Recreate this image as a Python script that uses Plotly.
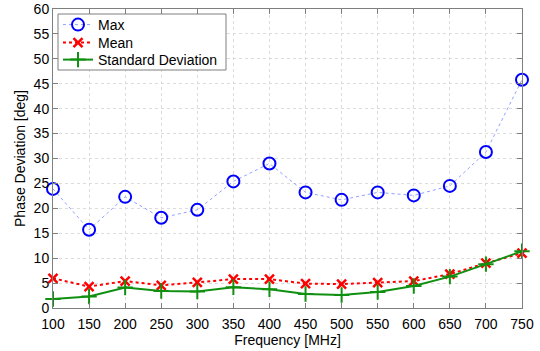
import plotly.graph_objects as go

freq = [100, 150, 200, 250, 300, 350, 400, 450, 500, 550, 600, 650, 700, 750]
max_dev = [23.9, 15.7, 22.3, 18.1, 19.7, 25.4, 29.0, 23.2, 21.7, 23.2, 22.6, 24.5, 31.3, 45.8]
mean_dev = [5.96, 4.3, 5.4, 4.55, 5.15, 5.8, 5.8, 4.9, 4.8, 5.1, 5.4, 6.8, 9.0, 11.0]
std_dev = [1.8, 2.3, 4.1, 3.4, 3.3, 4.15, 3.75, 2.8, 2.6, 3.2, 4.4, 6.3, 8.8, 11.4]

x_ticks = list(range(100, 751, 50))
y_ticks = list(range(0, 61, 5))

font = "Liberation Sans, Arial, sans-serif"
W, H = 540, 351
# plot area in pixels
PL, PR, PT, PB = 53, 522, 9, 308
PW, PH = PR - PL, PB - PT

fig = go.Figure()
fig.add_trace(go.Scatter(
    x=freq, y=max_dev, name="Max", mode="lines+markers", legend="legend",
    line=dict(color="rgba(110,130,255,0.75)", width=1, dash="dot"),
    marker=dict(symbol="circle-open", size=12, color="#0000ff", line=dict(width=2)),
    cliponaxis=False,
))
fig.add_trace(go.Scatter(
    x=freq, y=mean_dev, name="Mean", mode="lines+markers", legend="legend2",
    line=dict(color="#ff0000", width=2, dash="dot"),
    marker=dict(symbol="x-thin-open", size=9, color="#ff0000", line=dict(width=2.5, color="#ff0000")),
    cliponaxis=False,
))
fig.add_trace(go.Scatter(
    x=freq, y=std_dev, name="Standard Deviation", mode="lines+markers", legend="legend3",
    line=dict(color="#109010", width=2),
    marker=dict(symbol="cross-thin-open", size=11, color="#109010", line=dict(width=2, color="#109010")),
    cliponaxis=False,
))

axis_common = dict(
    showline=True, mirror="ticks", linecolor="#7f7f7f", linewidth=1,
    ticks="inside", ticklen=5, tickcolor="#7f7f7f",
    showgrid=True, gridcolor="#dcdcdc", griddash="dot", gridwidth=1,
    zeroline=False, tickfont=dict(size=14, color="#000000", family=font),
)


def legend_row(y_px):
    # one single-entry legend per series, stacked in a shared box
    return dict(
        xref="paper", yref="paper",
        x=(58 - PL) / PW, y=(PB - y_px) / PH, xanchor="left", yanchor="middle",
        bgcolor="rgba(0,0,0,0)", borderwidth=0,
        font=dict(size=14, family=font, color="#000000"),
    )


fig.update_layout(
    width=W, height=H,
    margin=dict(l=PL, r=W - PR, t=PT, b=H - PB, autoexpand=False),
    paper_bgcolor="white", plot_bgcolor="white",
    font=dict(family=font, size=14, color="#000000"),
    showlegend=True,
    legend=legend_row(25),
    legend2=legend_row(43),
    legend3=legend_row(60),
    shapes=[dict(
        type="rect", xref="paper", yref="paper",
        x0=(58 - PL) / PW, x1=(226 - PL) / PW,
        y0=(PB - 70) / PH, y1=(PB - 14) / PH,
        line=dict(color="#7f7f7f", width=1), fillcolor="white", layer="above",
    )],
    xaxis=dict(range=[100, 750], tickvals=x_ticks, ticklabelstandoff=3,
               title=dict(text="Frequency [MHz]", standoff=0, font=dict(size=14)),
               **axis_common),
    yaxis=dict(range=[0, 60], tickvals=y_ticks,
               title=dict(text="Phase Deviation [deg]", standoff=4, font=dict(size=14)),
               **axis_common),
)

fig.write_html("out.html")
